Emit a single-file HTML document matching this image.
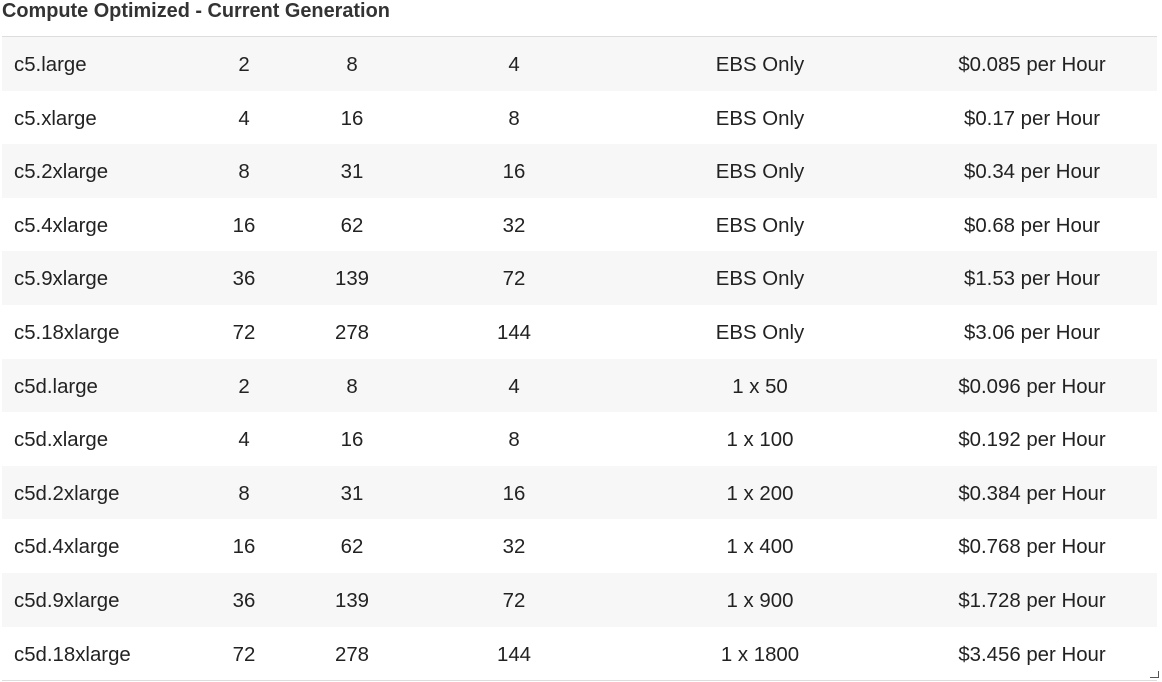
<!DOCTYPE html>
<html><head><meta charset="utf-8"><style>
body{margin:0;width:1162px;height:682px;background:#fff;font-family:"Liberation Sans",sans-serif;color:#222;overflow:hidden;position:relative}
h1{position:absolute;left:2px;top:0px;margin:0;font-size:19.9px;font-weight:bold;color:#333;line-height:22px}
.tbl{position:absolute;left:2px;top:36px;width:1155px;border-top:1px solid #ddd;border-bottom:1px solid #ddd}
.row{height:53.6px;position:relative;font-size:20.4px}
.row:nth-child(odd){background:#f7f7f7}
.c{position:absolute;top:2px;line-height:53.6px;white-space:nowrap;transform:translateX(-50%)}
.n{position:absolute;left:12px;top:2px;line-height:53.6px}
.grip{position:absolute;left:1150px;top:671px;width:8px;height:6px;border-right:1px solid #555;border-bottom:1px solid #555}
</style></head><body>
<h1>Compute Optimized - Current Generation</h1>
<div class="tbl" id="tbl"></div>
<div class="grip"></div>
<script>
const names=["c5.large","c5.xlarge","c5.2xlarge","c5.4xlarge","c5.9xlarge","c5.18xlarge","c5d.large","c5d.xlarge","c5d.2xlarge","c5d.4xlarge","c5d.9xlarge","c5d.18xlarge"];
const vcpu=[2,4,8,16,36,72,2,4,8,16,36,72];
const ecu=[8,16,31,62,139,278,8,16,31,62,139,278];
const mem=[4,8,16,32,72,144,4,8,16,32,72,144];
const storage=["EBS Only","EBS Only","EBS Only","EBS Only","EBS Only","EBS Only","1 x 50","1 x 100","1 x 200","1 x 400","1 x 900","1 x 1800"];
const price=["$0.085","$0.17","$0.34","$0.68","$1.53","$3.06","$0.096","$0.192","$0.384","$0.768","$1.728","$3.456"];
const cx=[242,350,512,758,1030];
const t=document.getElementById('tbl');
names.forEach((nm,i)=>{
 const r=document.createElement('div');r.className='row';
 
 
 const a=document.createElement('div');a.className='n';a.textContent=nm;
 
 
 r.appendChild(a);
 [vcpu[i],ecu[i],mem[i],storage[i],price[i]+" per Hour"].forEach((v,j)=>{
  const c=document.createElement('div');c.className='c';c.style.left=cx[j]+'px';c.textContent=v;
  
  
  r.appendChild(c);
 });
 t.appendChild(r);
});
</script>
</body></html>
